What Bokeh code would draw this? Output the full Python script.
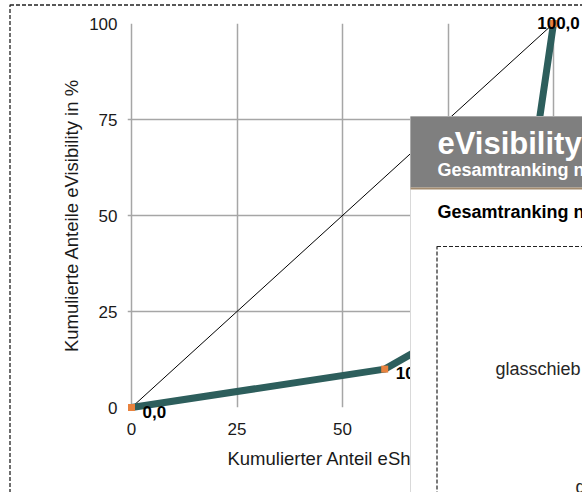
from bokeh.plotting import figure
from bokeh.models import Range1d, FixedTicker
from bokeh.embed import file_html
from bokeh.resources import INLINE
from bokeh.core.properties import value

# ---- data ----
cum_shops = [0, 60, 80, 88, 94, 100]          # cumulative share of eShops in %
cum_visibility = [0, 10, 22.5, 35, 55, 100]   # cumulative share of eVisibility in %
equality_x = [0, 100]
equality_y = [0, 100]
x_ticks = [0, 25, 50, 75, 100]
y_ticks = [0, 25, 50, 75, 100]
x_title = "Kumulierter Anteil eShops in %"
y_title = "Kumulierte Anteile eVisibility in %"
panel_title = "eVisibility"
panel_subtitle = "Gesamtranking nach"
panel_heading = "Gesamtranking nach"
panel_item = "glasschieb"
panel_item2 = "g"

point_labels = [f"{v:.1f}".replace(".", ",") for v in cum_visibility]

FONT = "Liberation Sans"
W, H = 582, 492
FL, FT, FB = 127, 23, 407          # frame left/top/bottom in pixels
X0, X1 = -0.95, 106.87

p = figure(width=W, height=H, output_backend="svg", toolbar_location=None,
           x_range=Range1d(X0, X1), y_range=Range1d(0, 100),
           min_border_left=FL, min_border_right=0, min_border_top=FT,
           min_border_bottom=H - FB)
p.outline_line_color = None
p.background_fill_color = "white"
p.border_fill_color = "white"

p.xaxis.ticker = FixedTicker(ticks=x_ticks)
p.yaxis.ticker = FixedTicker(ticks=y_ticks)
for ax in (p.xaxis[0], p.yaxis[0]):
    ax.axis_line_color = None
    ax.major_tick_line_color = None
    ax.minor_tick_line_color = None
    ax.major_tick_out = 0
    ax.major_tick_in = 0
    ax.major_label_text_font = FONT
    ax.major_label_text_font_size = "17px"
    ax.major_label_text_color = "#1a1a1a"
    ax.axis_label_text_font = FONT
    ax.axis_label_text_font_size = "18.5px"
    ax.axis_label_text_font_style = "normal"
    ax.axis_label_text_color = "#1a1a1a"
p.xaxis.axis_label = x_title
p.yaxis.axis_label = y_title
p.xaxis.major_label_standoff = 15
p.yaxis.major_label_standoff = 10
p.xaxis.axis_label_standoff = 10
p.yaxis.axis_label_standoff = 4

p.xgrid.ticker = FixedTicker(ticks=x_ticks)
p.ygrid.ticker = FixedTicker(ticks=y_ticks)
for g in (p.xgrid[0], p.ygrid[0]):
    g.grid_line_color = "#A6A6A6"
    g.grid_line_width = 1.5

LV = "guide"
p.line(equality_x, equality_y, line_color="black", line_width=1, level=LV)
p.line(cum_shops, cum_visibility, line_color="#2D5E5C", line_width=7,
       line_join="round", level=LV)
p.scatter(cum_shops, cum_visibility, marker="square", size=7,
          fill_color="#E8823E", line_color=None, level=LV)
p.text(x=cum_shops[:-1], y=cum_visibility[:-1], text=point_labels[:-1],
       x_offset=11, y_offset=4, text_align="left", text_baseline="middle",
       text_font=value(FONT), text_font_style="bold", text_font_size="17px",
       text_color="black", level=LV)
p.text(x=cum_shops[-1:], y=cum_visibility[-1:], text=point_labels[-1:],
       x_offset=5, y_offset=-1, text_align="center", text_baseline="middle",
       text_font=value(FONT), text_font_style="bold", text_font_size="17px",
       text_color="black", level=LV)

# ---- overlaid info panel and page border (placed by pixel position) ----
def px(v):
    return X0 + (v - FL) * (X1 - X0) / (W - FL)

def py(v):
    return (FB - v) * 100.0 / (FB - FT)

def box(l, t, r, b, **kw):
    p.quad(left=[px(l)], right=[px(r)], top=[py(t)], bottom=[py(b)],
           level="annotation", **kw)

def label(x, y, text, size, color, style="normal"):
    p.text(x=[px(x)], y=[py(y)], text=[text], text_font=value(FONT),
           text_font_size=size, text_color=color, text_font_style=style,
           text_baseline="middle", text_align="left", level="annotation")

box(9.5, 4.5, 900, 900, fill_color=None, line_color="#222222", line_width=1.3,
    line_dash="4 2")
box(410, 116, 900, 900, fill_color="white", line_color="#D9D9D9", line_width=1)
box(410, 116, 900, 187, fill_color="#7F7F7F", line_color=None)
box(410, 187, 900, 189, fill_color="#A38B6E", line_color=None)
box(436.5, 246, 900, 900, fill_color=None, line_color="#222222", line_width=1.2,
    line_dash="4 2")

label(437, 143, panel_title, "31px", "white", "bold")
label(437, 169, panel_subtitle, "18px", "white", "bold")
label(437, 211, panel_heading, "18px", "black", "bold")
label(495, 368, panel_item, "18px", "#262626", "normal")
label(575, 486, panel_item2, "18px", "#262626", "normal")

open("out.html", "w").write(file_html(p, INLINE))
